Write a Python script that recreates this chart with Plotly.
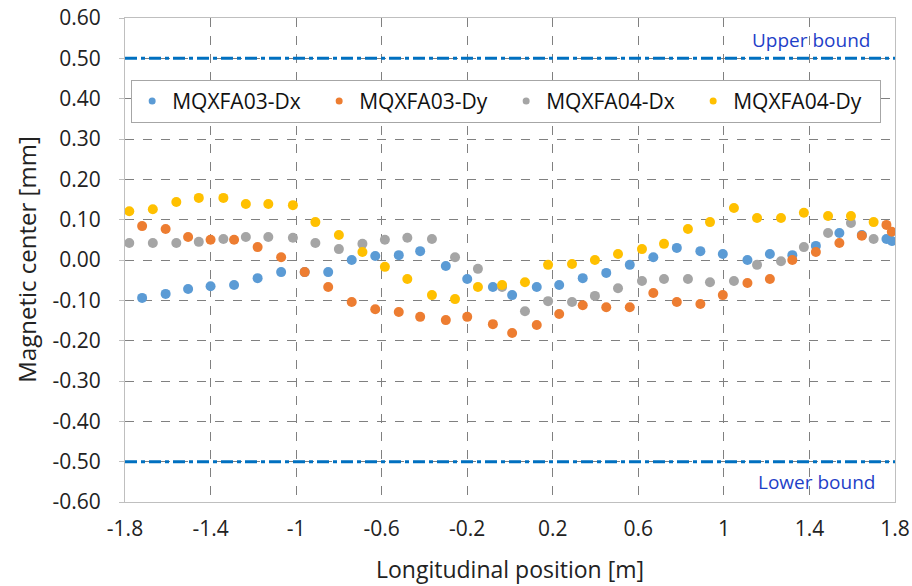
import plotly.graph_objects as go

# MQXFA03 positions and values
x_a03 = [-1.72, -1.61, -1.505, -1.40, -1.29, -1.18, -1.07, -0.96, -0.85, -0.74,
         -0.63, -0.52, -0.42, -0.30, -0.20, -0.08, 0.01, 0.125, 0.23, 0.34,
         0.45, 0.56, 0.67, 0.78, 0.89, 0.995, 1.11, 1.215, 1.32, 1.43,
         1.54, 1.645, 1.76, 1.785]
a03_dx = [-0.094, -0.084, -0.072, -0.065, -0.062, -0.045, -0.030, -0.030, -0.030, 0.000,
          0.010, 0.012, 0.022, -0.015, -0.047, -0.067, -0.087, -0.067, -0.062, -0.045,
          -0.032, -0.012, 0.007, 0.030, 0.022, 0.015, 0.000, 0.015, 0.012, 0.035,
          0.067, 0.062, 0.052, 0.047]
a03_dy = [0.084, 0.077, 0.057, 0.050, 0.050, 0.032, 0.007, -0.030, -0.067, -0.104,
          -0.122, -0.129, -0.141, -0.149, -0.141, -0.159, -0.181, -0.161, -0.134, -0.112,
          -0.117, -0.117, -0.082, -0.104, -0.109, -0.087, -0.057, -0.047, 0.000, 0.020,
          0.042, 0.060, 0.087, 0.070]

# MQXFA04 positions and values
x_a04 = [-1.78, -1.67, -1.56, -1.455, -1.34, -1.235, -1.13, -1.015, -0.91, -0.80,
         -0.69, -0.585, -0.48, -0.365, -0.257, -0.15, -0.037, 0.07, 0.178, 0.29,
         0.397, 0.505, 0.617, 0.72, 0.832, 0.935, 1.047, 1.155, 1.267, 1.374,
         1.487, 1.594, 1.70]
a04_dx = [0.042, 0.042, 0.042, 0.045, 0.052, 0.057, 0.057, 0.055, 0.042, 0.027,
          0.040, 0.050, 0.055, 0.052, 0.007, -0.022, -0.067, -0.127, -0.102, -0.104,
          -0.089, -0.070, -0.052, -0.047, -0.047, -0.055, -0.052, -0.012, -0.003, 0.032,
          0.067, 0.092, 0.052]
a04_dy = [0.121, 0.126, 0.144, 0.154, 0.154, 0.139, 0.139, 0.136, 0.094, 0.062,
          0.020, -0.017, -0.047, -0.087, -0.097, -0.067, -0.062, -0.055, -0.012, -0.010,
          0.000, 0.015, 0.027, 0.040, 0.077, 0.094, 0.129, 0.104, 0.104, 0.117,
          0.109, 0.109, 0.094]

bound_x = [-1.8, 1.8]
upper_bound = 0.5
lower_bound = -0.5

x_ticks = [-1.8, -1.4, -1.0, -0.6, -0.2, 0.2, 0.6, 1.0, 1.4, 1.8]
x_tick_labels = ["-1.8", "-1.4", "-1", "-0.6", "-0.2", "0.2", "0.6", "1", "1.4", "1.8"]
y_ticks = [0.6, 0.5, 0.4, 0.3, 0.2, 0.1, 0.0, -0.1, -0.2, -0.3, -0.4, -0.5, -0.6]
y_tick_labels = ["0.60", "0.50", "0.40", "0.30", "0.20", "0.10", "0.00",
                 "-0.10", "-0.20", "-0.30", "-0.40", "-0.50", "-0.60"]

FONT = "Open Sans, sans-serif"
TXT = "#222222"
series = [
    ("MQXFA03-Dx", x_a03, a03_dx, "#5B9BD5"),
    ("MQXFA03-Dy", x_a03, a03_dy, "#ED7D31"),
    ("MQXFA04-Dx", x_a04, a04_dx, "#A5A5A5"),
    ("MQXFA04-Dy", x_a04, a04_dy, "#FFC000"),
]

fig = go.Figure()
bound_dash = "12px,4px,4px,4px"
for yb in (upper_bound, lower_bound):
    fig.add_trace(go.Scatter(x=bound_x, y=[yb, yb], mode="lines",
                             line=dict(color="#0070C0", width=3, dash=bound_dash),
                             showlegend=False, hoverinfo="skip"))

for name, xs, ys, col in series:
    fig.add_trace(go.Scatter(x=xs, y=ys, mode="markers", name=name,
                             marker=dict(color=col, size=10), showlegend=False))
for name, xs, ys, col in series:
    fig.add_trace(go.Scatter(x=[None], y=[None], mode="markers", name=name,
                             marker=dict(color=col, size=7)))

fig.add_annotation(x=0.970, xref="paper", y=upper_bound, yref="y", yshift=3,
                   text="Upper bound", showarrow=False, xanchor="right", yanchor="bottom",
                   font=dict(family=FONT, size=19, color="#1F3FC8"))
fig.add_annotation(x=0.977, xref="paper", y=lower_bound, yref="y", yshift=-5,
                   text="Lower bound", showarrow=False, xanchor="right", yanchor="top",
                   font=dict(family=FONT, size=19, color="#1F3FC8"))

# axis titles
fig.add_annotation(x=-0.129, xref="paper", y=0.5, yref="paper", textangle=-90,
                   text="Magnetic center [mm]", showarrow=False,
                   xanchor="center", yanchor="middle",
                   font=dict(family=FONT, size=24, color=TXT))
fig.add_annotation(x=0.5, xref="paper", y=-0.138, yref="paper",
                   text="Longitudinal position [m]", showarrow=False,
                   xanchor="center", yanchor="middle",
                   font=dict(family=FONT, size=23, color=TXT))

fig.update_layout(
    width=912, height=586,
    margin=dict(l=125, r=17, t=18, b=84),
    paper_bgcolor="white", plot_bgcolor="white",
    font=dict(family=FONT, size=17, color=TXT),
    legend=dict(orientation="h", x=0.008, y=0.872, xanchor="left", yanchor="top",
                bgcolor="white", bordercolor="#A6A6A6", borderwidth=1,
                font=dict(family=FONT, size=21, color="#111111"),
                entrywidth=142, entrywidthmode="pixels", itemwidth=30,
                tracegroupgap=0),
    xaxis=dict(range=[-1.8, 1.8], tickvals=x_ticks, ticktext=x_tick_labels,
               showgrid=True, gridcolor="#808080", griddash="dash", gridwidth=1,
               showline=True, linecolor="#BFBFBF", linewidth=1, mirror=True,
               zeroline=False, ticks="", ticklabelstandoff=8, automargin=False,
               tickfont=dict(size=21, color=TXT)),
    yaxis=dict(range=[-0.6, 0.6], tickvals=y_ticks, ticktext=y_tick_labels,
               showgrid=True, gridcolor="#808080", griddash="dash", gridwidth=1,
               showline=True, linecolor="#BFBFBF", linewidth=1, mirror=True,
               zeroline=False, ticks="outside", ticklen=5, tickcolor="#BFBFBF",
               ticklabelstandoff=14, automargin=False,
               tickfont=dict(size=21, color=TXT)),
)

fig.write_html("out.html")
